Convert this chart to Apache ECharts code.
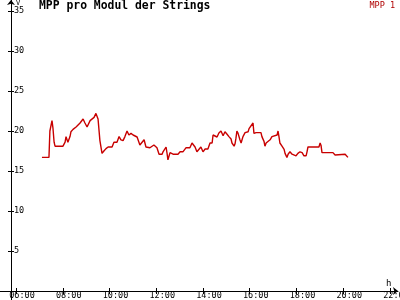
<!DOCTYPE html>
<html><head><meta charset="utf-8">
<script src="https://cdn.jsdelivr.net/npm/echarts@6/dist/echarts.min.js"></script>
<style>html,body{margin:0;padding:0;background:#fff}#c{width:400px;height:300px}</style>
</head><body><div id="c"></div>
<script>
const title = 'MPP pro Modul der Strings';
const seriesName = 'MPP 1';
const xTicks = [6, 8, 10, 12, 14, 16, 18, 20, 22];
const yTicks = [5, 10, 15, 20, 25, 30, 35];
const times = [
 7.11,7.28,7.33,7.41,7.45,7.54,7.58,7.63,7.67,8.01,
 8.10,8.14,8.22,8.31,8.35,8.44,8.57,8.65,8.74,8.87,
 8.95,9.04,9.08,9.17,9.25,9.34,9.42,9.47,9.51,9.59,
 9.68,9.76,9.85,9.94,10.11,10.19,10.32,10.41,10.49,10.58,
 10.66,10.75,10.83,10.92,11.01,11.18,11.30,11.48,11.56,11.73,
 11.90,12.03,12.12,12.25,12.29,12.42,12.46,12.50,12.59,12.72,
 12.93,13.02,13.14,13.27,13.44,13.53,13.57,13.66,13.74,13.79,
 13.91,14.00,14.09,14.21,14.30,14.39,14.43,14.51,14.60,14.68,
 14.77,14.86,14.94,15.03,15.11,15.20,15.24,15.33,15.37,15.41,
 15.45,15.50,15.58,15.63,15.67,15.71,15.80,15.88,15.93,15.97,
 16.05,16.14,16.18,16.27,16.48,16.52,16.61,16.65,16.70,16.78,
 16.87,16.95,16.99,17.17,17.21,17.25,17.29,17.38,17.47,17.51,
 17.59,17.64,17.72,17.81,17.85,17.98,18.06,18.15,18.24,18.32,
 18.41,18.45,18.49,18.96,19.01,19.05,19.09,19.56,19.65,19.73,
 20.08,20.16,20.20
];
const values = [
 16.7,16.7,16.8,16.7,20.0,21.3,20.4,18.6,18.1,18.1,
 18.6,19.3,18.6,19.3,19.9,20.2,20.5,20.6,21.0,21.5,
 21.0,20.5,20.5,21.3,21.3,21.7,22.2,22.0,21.5,18.8,
 17.2,17.5,17.8,18.0,18.0,18.6,18.6,19.3,18.9,18.8,
 19.3,20.0,19.5,19.7,19.5,19.25,18.25,18.9,18.0,17.9,
 18.25,17.9,17.1,17.1,17.4,18.0,17.25,16.4,17.3,17.1,
 17.1,17.4,17.4,17.9,17.9,18.5,18.25,18.0,17.4,17.4,
 18.0,17.4,17.75,17.75,18.5,18.5,19.5,19.75,19.25,19.75,
 20.0,19.4,19.9,19.6,19.3,19.0,18.5,18.1,18.4,19.1,
 20.0,19.7,18.9,18.5,18.9,19.3,19.8,19.6,19.9,20.3,
 20.5,21.0,19.7,19.8,19.8,19.3,18.7,18.1,18.5,18.5,
 18.9,19.3,19.5,19.5,20.0,19.3,18.5,18.1,17.7,17.2,
 16.7,17.1,17.4,17.1,16.9,16.9,17.2,17.4,17.3,16.9,
 16.9,17.4,18.0,18.0,18.5,18.2,17.3,17.3,17.0,17.1,
 17.1,16.9,16.7
];

const FONT = '"DejaVu Sans Mono", "Liberation Mono", monospace';
const xMin = 6 - 16 / 23.375, xMax = 6 + 382 / 23.375;
const yMin = -9 / 8, yMax = 291 / 8;
const fmtX = v => String(v).padStart(2, '0') + ':00';

const baseX = {
  type: 'value', min: xMin, max: xMax, position: 'bottom',
  splitLine: { show: false }
};
const baseY = {
  type: 'value', min: yMin, max: yMax, position: 'left', offset: -11,
  splitLine: { show: false }
};

const chart = echarts.init(document.getElementById('c'), null, { renderer: 'canvas' });
chart.setOption({
  animation: false,
  backgroundColor: '#fff',
  title: {
    text: title, left: 39, top: 1, padding: 0,
    textStyle: { fontFamily: '"DejaVu Sans Mono", monospace', fontWeight: 'bold', fontSize: 11.4, color: '#000' }
  },
  legend: {
    data: [{ name: seriesName, icon: 'none' }],
    right: 5, top: 1, padding: 0, itemWidth: 0, itemHeight: 0, itemGap: 0,
    textStyle: { fontFamily: FONT, fontSize: 8.5, color: '#b00000', padding: 0 }
  },
  grid: {
    left: 0, right: 2, top: 0, bottom: 0, containLabel: false,
    outerBoundsMode: 'none'
  },
  xAxis: [
    Object.assign({}, baseX, {
      name: 'h', nameLocation: 'end', nameGap: -12,
      nameTextStyle: { fontFamily: FONT, fontSize: 9, color: '#000', verticalAlign: 'bottom', padding: [0, 0, 3, 0] },
      axisLine: { onZero: true, symbol: ['none', 'arrow'], symbolSize: [6, 5], lineStyle: { color: '#000', width: 1 } },
      axisTick: { show: true, inside: false, length: 3, customValues: xTicks, lineStyle: { color: '#000' } },
      axisLabel: { show: false }
    }),
    Object.assign({}, baseX, {
      axisLine: { show: false, onZero: true },
      axisTick: { show: true, inside: true, length: 3, customValues: xTicks, lineStyle: { color: '#000' } },
      axisLabel: { show: false }
    }),
    Object.assign({}, baseX, {
      axisLine: { show: false, onZero: false },
      axisTick: { show: false },
      axisLabel: {
        customValues: xTicks, formatter: fmtX, inside: true, margin: 0,
        fontFamily: FONT, fontSize: 8.5, color: '#000', padding: [0, 0, 0, 12]
      }
    })
  ],
  yAxis: [
    Object.assign({}, baseY, {
      name: 'V', nameLocation: 'end', nameGap: -7,
      nameTextStyle: { fontFamily: FONT, fontSize: 7, color: '#000', padding: [0, 0, 0, 14] },
      axisLine: { symbol: ['none', 'arrow'], symbolSize: [6, 5], lineStyle: { color: '#000', width: 1 } },
      axisTick: { show: true, inside: false, length: 3, customValues: yTicks, lineStyle: { color: '#000' } },
      axisLabel: { customValues: yTicks, inside: true, margin: 3, fontFamily: FONT, fontSize: 8.5, color: '#000' }
    }),
    Object.assign({}, baseY, {
      axisLine: { show: false },
      axisTick: { show: true, inside: true, length: 3, customValues: yTicks, lineStyle: { color: '#000' } },
      axisLabel: { show: false }
    })
  ],
  series: [{
    name: seriesName, type: 'line', xAxisIndex: 0, yAxisIndex: 0,
    data: times.map((t, i) => [t, values[i]]),
    showSymbol: false, symbol: 'none',
    lineStyle: { color: '#c80000', width: 1.4 },
    itemStyle: { color: '#c80000' }
  }]
});
</script>
</body></html>
